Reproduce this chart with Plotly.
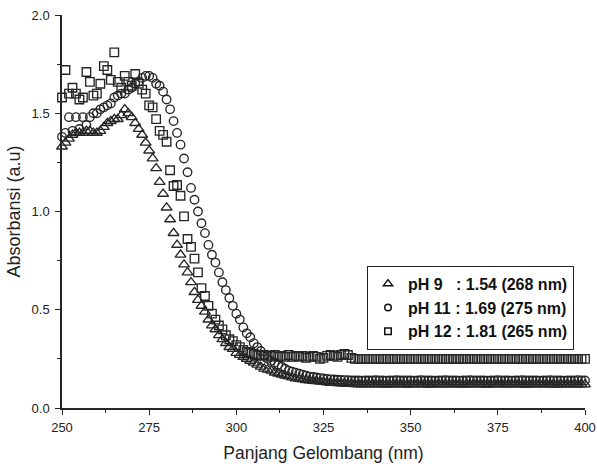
import plotly.graph_objects as go

wavelength = list(range(250, 401))

ph9 = [
    1.33, 1.35, 1.37, 1.39, 1.40, 1.40, 1.40, 1.41, 1.41, 1.40,
    1.40, 1.41, 1.43, 1.45, 1.46, 1.47, 1.47, 1.49, 1.52, 1.50,
    1.48, 1.45, 1.42, 1.39, 1.35, 1.31, 1.27, 1.22, 1.15, 1.09,
    1.02, 0.96, 0.89, 0.83, 0.78, 0.73, 0.69, 0.64, 0.59, 0.55,
    0.52, 0.49, 0.45, 0.42, 0.40, 0.37, 0.35, 0.33, 0.31, 0.30,
    0.28, 0.27, 0.26, 0.25, 0.24, 0.23, 0.22, 0.21, 0.20, 0.195,
    0.19, 0.18, 0.175, 0.17, 0.165, 0.16, 0.155, 0.15, 0.148, 0.145,
    0.142, 0.14, 0.138, 0.136, 0.134, 0.132, 0.13, 0.128, 0.127, 0.126,
    0.125, 0.124, 0.123, 0.122, 0.121, 0.12, 0.12, 0.12, 0.121, 0.12,
    0.12, 0.121, 0.12, 0.119, 0.12, 0.12, 0.121, 0.12, 0.12, 0.119,
    0.12, 0.12, 0.121, 0.12, 0.12, 0.12, 0.119, 0.12, 0.121, 0.12,
    0.12, 0.12, 0.12, 0.121, 0.12, 0.119, 0.12, 0.12, 0.12, 0.121,
    0.12, 0.12, 0.119, 0.12, 0.12, 0.121, 0.12, 0.12, 0.12, 0.12,
    0.121, 0.12, 0.12, 0.119, 0.12, 0.12, 0.12, 0.121, 0.12, 0.12,
    0.12, 0.12, 0.119, 0.12, 0.121, 0.12, 0.12, 0.12, 0.12, 0.12,
    0.12,
]

ph11 = [
    1.38, 1.40, 1.48, 1.41, 1.48, 1.42, 1.48, 1.44, 1.48, 1.50,
    1.50, 1.52, 1.53, 1.54, 1.55, 1.58, 1.59, 1.60, 1.60, 1.62,
    1.63, 1.65, 1.66, 1.68, 1.69, 1.69, 1.68, 1.65, 1.64, 1.61,
    1.57, 1.52, 1.46, 1.40, 1.34, 1.27, 1.20, 1.12, 1.06, 1.00,
    0.94, 0.89, 0.83, 0.78, 0.74, 0.69, 0.64, 0.60, 0.56, 0.52,
    0.48, 0.45, 0.41, 0.38, 0.36, 0.33, 0.31, 0.29, 0.27, 0.25,
    0.24, 0.23, 0.22, 0.21, 0.20, 0.19, 0.185, 0.18, 0.175, 0.17,
    0.165, 0.16, 0.158, 0.155, 0.152, 0.15, 0.148, 0.146, 0.145, 0.144,
    0.143, 0.142, 0.141, 0.14, 0.14, 0.14, 0.139, 0.14, 0.14, 0.14,
    0.141, 0.14, 0.14, 0.139, 0.14, 0.14, 0.141, 0.14, 0.14, 0.14,
    0.14, 0.139, 0.14, 0.141, 0.14, 0.14, 0.14, 0.139, 0.14, 0.14,
    0.141, 0.14, 0.14, 0.14, 0.139, 0.14, 0.14, 0.141, 0.14, 0.14,
    0.14, 0.14, 0.139, 0.14, 0.14, 0.141, 0.14, 0.14, 0.14, 0.139,
    0.14, 0.14, 0.141, 0.14, 0.14, 0.14, 0.14, 0.139, 0.14, 0.14,
    0.141, 0.14, 0.14, 0.14, 0.139, 0.14, 0.14, 0.14, 0.141, 0.14,
    0.14,
]

ph12 = [
    1.58, 1.72, 1.60, 1.63, 1.60, 1.57, 1.58, 1.71, 1.66, 1.59,
    1.60, 1.65, 1.74, 1.72, 1.67, 1.81, 1.66, 1.63, 1.69, 1.66,
    1.64, 1.70, 1.65, 1.62, 1.60, 1.54, 1.53, 1.47, 1.41, 1.39,
    1.355, 1.21, 1.13, 1.135, 1.08, 0.975, 0.86, 0.82, 0.76, 0.69,
    0.61, 0.57, 0.52, 0.48, 0.45, 0.42, 0.40, 0.37, 0.35, 0.34,
    0.32, 0.31, 0.295, 0.285, 0.28, 0.275, 0.27, 0.265, 0.27, 0.26,
    0.265, 0.27, 0.26, 0.265, 0.26, 0.27, 0.26, 0.265, 0.26, 0.265,
    0.255, 0.26, 0.265, 0.26, 0.25, 0.255, 0.265, 0.27, 0.265, 0.26,
    0.27, 0.275, 0.27, 0.255, 0.25, 0.25, 0.25, 0.25, 0.25, 0.25,
    0.25, 0.25, 0.25, 0.25, 0.25, 0.25, 0.25, 0.25, 0.25, 0.25,
    0.25, 0.25, 0.25, 0.25, 0.25, 0.25, 0.25, 0.25, 0.25, 0.25,
    0.25, 0.25, 0.25, 0.25, 0.25, 0.25, 0.25, 0.25, 0.25, 0.25,
    0.25, 0.25, 0.25, 0.25, 0.25, 0.25, 0.25, 0.25, 0.25, 0.25,
    0.25, 0.25, 0.25, 0.25, 0.25, 0.25, 0.25, 0.25, 0.25, 0.25,
    0.25, 0.25, 0.25, 0.25, 0.25, 0.25, 0.25, 0.25, 0.25, 0.25,
    0.25,
]

series_names = [
    "pH 9\u00a0\u00a0\u00a0: 1.54 (268 nm)",
    "pH 11 : 1.69 (275 nm)",
    "pH 12 : 1.81 (265 nm)",
]
x_ticks = [250, 275, 300, 325, 350, 375, 400]
y_ticks = [0.0, 0.5, 1.0, 1.5, 2.0]

ink = "#262626"
fig = go.Figure()
styles = [
    (ph9, series_names[0], "triangle-up-open", 9.5, 8),
    (ph11, series_names[1], "circle-open", 8.5, 6.5),
    (ph12, series_names[2], "square-open", 8.5, 6.5),
]
for vals, name, sym, size, legsize in styles:
    fig.add_trace(go.Scatter(
        x=wavelength, y=vals, mode="markers", name=name, showlegend=False,
        cliponaxis=False,
        marker=dict(symbol=sym, size=size, color=ink, line=dict(width=1.35, color=ink)),
    ))
for vals, name, sym, size, legsize in styles:
    # legend-only entry with the smaller symbol used in the reference key
    fig.add_trace(go.Scatter(
        x=[None], y=[None], mode="markers", name=name, showlegend=True,
        marker=dict(symbol=sym, size=legsize, color="#111", line=dict(width=1.5, color="#111")),
    ))

font_family = "Liberation Sans, Arial, sans-serif"
fig.update_layout(
    width=597, height=468,
    margin=dict(l=62, r=12, t=15, b=60),
    paper_bgcolor="white", plot_bgcolor="white",
    font=dict(family=font_family, size=13, color="#222"),
    showlegend=True,
    legend=dict(
        x=0.979, xanchor="right", y=0.362, yanchor="top",
        bgcolor="white", bordercolor="#222", borderwidth=1,
        font=dict(family=font_family, size=16, color="#111", weight="bold"),
        itemsizing="trace", tracegroupgap=0,
    ),
    xaxis=dict(
        range=[250, 400], tickvals=x_ticks, ticktext=[str(v) for v in x_ticks],
        showline=True, linecolor=ink, linewidth=1.5, showgrid=False, zeroline=False,
        ticks="outside", ticklen=5, tickwidth=1.2, tickcolor=ink, ticklabelstandoff=2,
        automargin=False,
        minor=dict(ticks="outside", ticklen=3, tickwidth=1, tickcolor=ink, dtick=12.5, tick0=250, showgrid=False),
        title=dict(text="Panjang Gelombang (nm)", font=dict(size=17.5), standoff=12),
        tickfont=dict(size=13),
    ),
    yaxis=dict(
        range=[0, 2.0], tickvals=y_ticks, ticktext=[f"{v:.1f}" for v in y_ticks],
        showline=True, linecolor=ink, linewidth=1.5, showgrid=False, zeroline=False,
        ticks="outside", ticklen=5, tickwidth=1.2, tickcolor=ink, ticklabelstandoff=3,
        automargin=False,
        minor=dict(ticks="outside", ticklen=3, tickwidth=1, tickcolor=ink, dtick=0.25, tick0=0, showgrid=False),
        title=dict(text="Absorbansi (a.u)", font=dict(size=18), standoff=6),
        tickfont=dict(size=13),
    ),
)

fig.write_html("out.html")
